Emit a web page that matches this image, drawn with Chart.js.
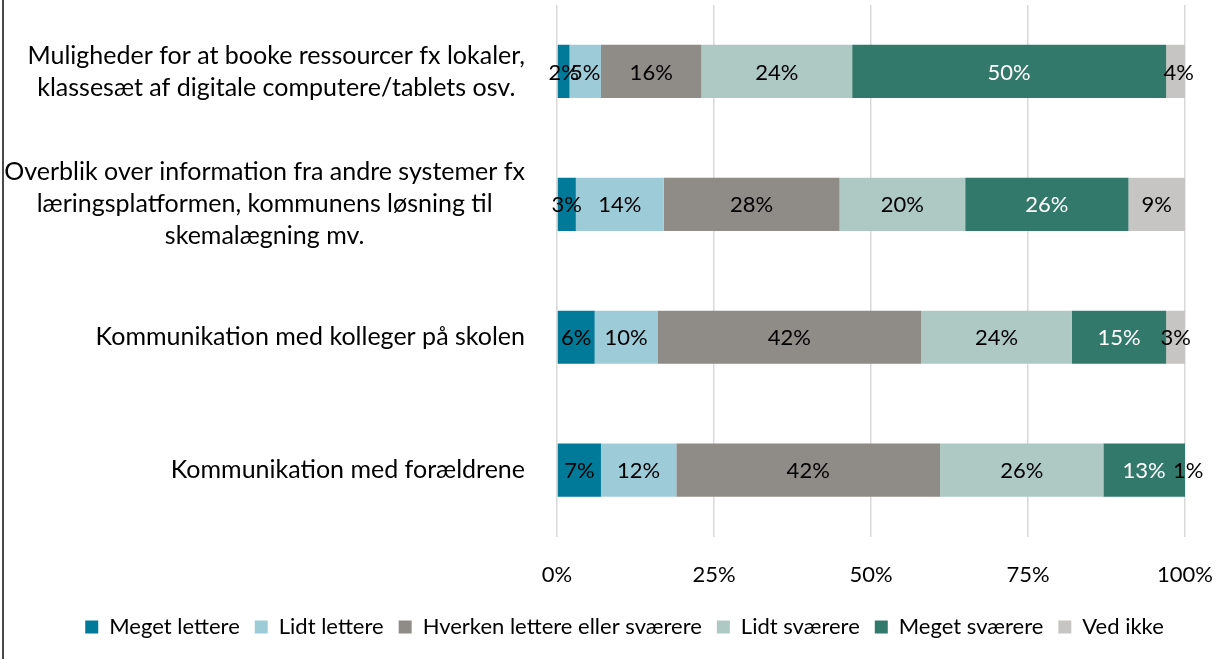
<!DOCTYPE html>
<html>
<head>
<meta charset="utf-8">
<script src="https://cdn.jsdelivr.net/npm/chart.js@4.4.1/dist/chart.umd.min.js"></script>
<style>
  html, body { margin: 0; padding: 0; background: #fff; }
  #wrap { position: relative; width: 1217px; height: 659px; }
  #frame { position: absolute; left: 2px; top: 0; width: 2px; height: 659px; background: #4a4a4a; }
  canvas { position: absolute; left: 0; top: 0; }
</style>
</head>
<body>
<div id="wrap">
  <canvas id="chart" width="1217" height="659"></canvas>
  <div id="frame"></div>
</div>
<script>
// Questions (one bar each), lines split where they wrap
const questions = [
    ['Muligheder for at booke ressourcer fx lokaler,', 'klassesæt af digitale computere/tablets osv.'],
    ['Overblik over information fra andre systemer fx', 'læringsplatformen, kommunens løsning til', 'skemalægning mv.'],
    ['Kommunikation med kolleger på skolen'],
    ['Kommunikation med forældrene']
];

const answerNames = ['Meget lettere', 'Lidt lettere', 'Hverken lettere eller sværere', 'Lidt sværere', 'Meget sværere', 'Ved ikke'];
const answerColors = ['#017a99', '#9dcbd8', '#8f8b86', '#aec8c4', '#33796b', '#c6c5c3'];

// Share of answers in percent, per answer option (one value per question)
const megetLettere = [2, 3, 6, 7];
const lidtLettere = [5, 14, 10, 12];
const hverken = [16, 28, 42, 42];
const lidtSvaerere = [24, 20, 24, 26];
const megetSvaerere = [50, 26, 15, 13];
const vedIkke = [4, 9, 3, 1];

const xTicks = [0, 25, 50, 75, 100];

const series = [megetLettere, lidtLettere, hverken, lidtSvaerere, megetSvaerere, vedIkke];
const FONT = 'Lato';

// Question labels: the block is right aligned, lines are centered inside it
const questionLabels = {
    id: 'questionLabels',
    afterDraw(chart) {
        const ctx = chart.ctx;
        const y = chart.scales.y;
        const right = chart.chartArea.left - 32;
        const lineH = 32;
        ctx.save();
        ctx.font = '25px ' + FONT;
        ctx.fillStyle = '#000';
        ctx.textAlign = 'center';
        ctx.textBaseline = 'middle';
        questions.forEach((lines, i) => {
            const w = Math.max(...lines.map(l => ctx.measureText(l).width));
            const cx = right - w / 2;
            const cy = y.getPixelForValue(i);
            lines.forEach((l, j) => {
                ctx.fillText(l, cx, cy + (j - (lines.length - 1) / 2) * lineH);
            });
        });
        ctx.restore();
    }
};

// Value labels in the middle of each segment
const valueLabels = {
    id: 'valueLabels',
    afterDatasetsDraw(chart) {
        const ctx = chart.ctx;
        ctx.save();
        ctx.font = '22px ' + FONT;
        ctx.textAlign = 'center';
        ctx.textBaseline = 'middle';
        chart.data.datasets.forEach((ds, di) => {
            const meta = chart.getDatasetMeta(di);
            ctx.fillStyle = di === 4 ? '#ffffff' : '#000000';
            meta.data.forEach((bar, i) => {
                const x = (bar.x + bar.base) / 2;
                ctx.fillText(ds.data[i] + '%', x, bar.y + 1);
            });
        });
        ctx.restore();
    }
};

// Nudge the legend row a bit to the right
const legendShift = {
    id: 'legendShift',
    afterLayout(chart) {
        chart.legend.left += 30;
        chart.legend.right += 30;
    }
};

new Chart(document.getElementById('chart'), {
    type: 'bar',
    data: {
        labels: questions.map(q => q.join(' ')),
        datasets: series.map((vals, i) => ({
            label: answerNames[i],
            data: vals,
            backgroundColor: answerColors[i],
            borderWidth: 0,
            barPercentage: 0.4,
            categoryPercentage: 1
        }))
    },
    options: {
        indexAxis: 'y',
        responsive: false,
        animation: false,
        layout: {
            padding: { left: 4, right: 32, top: 5, bottom: 11 }
        },
        scales: {
            x: {
                stacked: true,
                min: 0,
                max: 100,
                afterBuildTicks(scale) {
                    scale.ticks = xTicks.map(v => ({ value: v }));
                },
                afterFit(scale) {
                    // let the legend sit closer to the tick labels,
                    // and keep the end labels from shrinking the plot
                    scale.height -= 12;
                    scale.paddingLeft = 0;
                    scale.paddingRight = 0;
                },
                grid: { color: '#d9d9d9', lineWidth: 1.5, drawTicks: false },
                border: { display: false },
                ticks: {
                    color: '#000',
                    padding: 25,
                    font: { family: FONT, size: 22 },
                    callback: v => v + '%'
                }
            },
            y: {
                stacked: true,
                afterFit(scale) {
                    scale.width = 553;
                },
                grid: { display: false },
                border: { display: false },
                ticks: { display: false }
            }
        },
        plugins: {
            legend: {
                position: 'bottom',
                labels: {
                    color: '#000',
                    boxWidth: 13,
                    boxHeight: 13,
                    padding: 15,
                    font: { family: FONT, size: 22 }
                }
            },
            tooltip: { enabled: false }
        }
    },
    plugins: [questionLabels, valueLabels, legendShift]
});
</script>
</body>
</html>
